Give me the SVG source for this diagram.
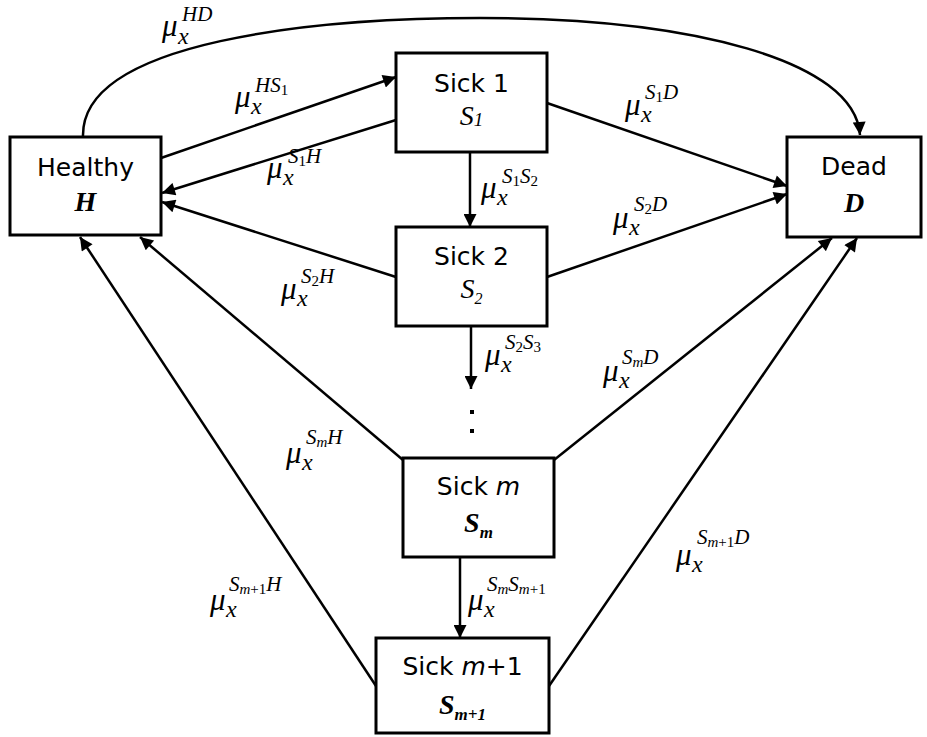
<svg xmlns="http://www.w3.org/2000/svg" width="927" height="737" viewBox="0 0 927 737">
<style>
  .box { fill: #fff; stroke: #000; stroke-width: 3; }
  .nt { font-family: "DejaVu Sans", Verdana, sans-serif; font-size: 25px; text-anchor: middle; fill: #000; }
  .ns { font-family: "Liberation Serif", "Times New Roman", serif; font-size: 28px; font-style: italic; font-weight: bold; text-anchor: middle; fill: #000; }
  .nsr { font-weight: normal; }
  .c { fill: none; stroke: #000; stroke-width: 2.5; marker-end: url(#ah); }
  .lbl { font-family: "Liberation Serif", "Times New Roman", serif; font-style: italic; font-size: 31px; fill: #000; }
  .sub { font-size: 24px; }
  .sup { font-size: 21px; }
  .ss { font-size: 15px; font-style: normal; }
  .ssi { font-size: 15px; }
</style>
<defs>
  <marker id="ah" viewBox="0 0 10 10" refX="10" refY="5" markerUnits="userSpaceOnUse" markerWidth="17" markerHeight="13" orient="auto">
    <path d="M0,0 L10,5 L0,10 z" fill="#000"/>
  </marker>
</defs>

<g id="connectors">
  <path class="c" d="M83,137 C80,40 320,18 480,18 C690,18 855,60 860,135"/>
  <path class="c" d="M161,158 L396,77"/>
  <path class="c" d="M396,120 L162,193"/>
  <path class="c" d="M396,277 L162,202"/>
  <path class="c" d="M403,460 L140,237"/>
  <path class="c" d="M376,686 L80,237"/>
  <path class="c" d="M547,103 L787,186"/>
  <path class="c" d="M547,277 L787,194"/>
  <path class="c" d="M554,460 L832,238"/>
  <path class="c" d="M549,686 L857,238"/>
  <path class="c" d="M470,152 L470,227"/>
  <path class="c" d="M471,326 L471,389"/>
  <path class="c" d="M460,557 L460,638"/>
  <rect x="470" y="410" width="4" height="4" fill="#000"/>
  <rect x="470" y="429" width="4" height="4" fill="#000"/>
</g>

<g id="labels">
  <text class="lbl"><tspan x="162" y="36">μ</tspan><tspan class="sub" x="178" y="44">x</tspan><tspan class="sup" x="182" y="21">HD</tspan></text>
  <text class="lbl"><tspan x="235" y="107">μ</tspan><tspan class="sub" x="251" y="114">x</tspan><tspan class="sup" x="255" y="92">HS</tspan><tspan class="ss" dy="3">1</tspan></text>
  <text class="lbl"><tspan x="267" y="178">μ</tspan><tspan class="sub" x="283" y="185">x</tspan><tspan class="sup" x="288" y="163">S</tspan><tspan class="ss" dy="3">1</tspan><tspan class="sup" dy="-3">H</tspan></text>
  <text class="lbl"><tspan x="625" y="115">μ</tspan><tspan class="sub" x="641" y="122">x</tspan><tspan class="sup" x="645" y="99">S</tspan><tspan class="ss" dy="3">1</tspan><tspan class="sup" dy="-3">D</tspan></text>
  <text class="lbl"><tspan x="481" y="198">μ</tspan><tspan class="sub" x="497" y="205">x</tspan><tspan class="sup" x="502" y="183">S</tspan><tspan class="ss" dy="3">1</tspan><tspan class="sup" dy="-3">S</tspan><tspan class="ss" dy="3">2</tspan></text>
  <text class="lbl"><tspan x="613" y="228">μ</tspan><tspan class="sub" x="629" y="235">x</tspan><tspan class="sup" x="634" y="211">S</tspan><tspan class="ss" dy="3">2</tspan><tspan class="sup" dy="-3">D</tspan></text>
  <text class="lbl"><tspan x="281" y="299">μ</tspan><tspan class="sub" x="297" y="306">x</tspan><tspan class="sup" x="301" y="283">S</tspan><tspan class="ss" dy="3">2</tspan><tspan class="sup" dy="-3">H</tspan></text>
  <text class="lbl"><tspan x="485" y="365">μ</tspan><tspan class="sub" x="501" y="372">x</tspan><tspan class="sup" x="505" y="349">S</tspan><tspan class="ss" dy="3">2</tspan><tspan class="sup" dy="-3">S</tspan><tspan class="ss" dy="3">3</tspan></text>
  <text class="lbl"><tspan x="603" y="381">μ</tspan><tspan class="sub" x="619" y="388">x</tspan><tspan class="sup" x="622" y="364">S</tspan><tspan class="ssi" dy="3">m</tspan><tspan class="sup" dy="-3">D</tspan></text>
  <text class="lbl"><tspan x="286" y="463">μ</tspan><tspan class="sub" x="302" y="470">x</tspan><tspan class="sup" x="306" y="444">S</tspan><tspan class="ssi" dy="3">m</tspan><tspan class="sup" dy="-3">H</tspan></text>
  <text class="lbl"><tspan x="676" y="565">μ</tspan><tspan class="sub" x="692" y="572">x</tspan><tspan class="sup" x="697" y="544">S</tspan><tspan class="ssi" dy="3">m</tspan><tspan class="ss">+1</tspan><tspan class="sup" dy="-3">D</tspan></text>
  <text class="lbl"><tspan x="210" y="610">μ</tspan><tspan class="sub" x="226" y="617">x</tspan><tspan class="sup" x="229" y="591">S</tspan><tspan class="ssi" dy="3">m</tspan><tspan class="ss">+1</tspan><tspan class="sup" dy="-3">H</tspan></text>
  <text class="lbl"><tspan x="468" y="610">μ</tspan><tspan class="sub" x="484" y="617">x</tspan><tspan class="sup" x="487" y="591">S</tspan><tspan class="ssi" dy="3">m</tspan><tspan class="sup" dy="-3">S</tspan><tspan class="ssi" dy="3">m</tspan><tspan class="ss">+1</tspan></text>
</g>

<g id="healthy">
  <rect class="box" x="10" y="137" width="151" height="98"/>
  <text class="nt" x="85.5" y="176">Healthy</text>
  <text class="ns" x="85.5" y="211">H</text>
</g>
<g id="sick1">
  <rect class="box" x="396" y="53" width="151" height="99"/>
  <text class="nt" x="471.5" y="92">Sick 1</text>
  <text class="ns nsr" x="471.5" y="125">S<tspan font-size="19px" dy="1">1</tspan></text>
</g>
<g id="sick2">
  <rect class="box" x="396" y="227" width="151" height="99"/>
  <text class="nt" x="471.5" y="265">Sick 2</text>
  <text class="ns nsr" x="471.5" y="298">S<tspan font-size="16px" dy="6">2</tspan></text>
</g>
<g id="sickm">
  <rect class="box" x="403" y="458" width="151" height="99"/>
  <text class="nt" x="478.5" y="495">Sick <tspan font-style="italic">m</tspan></text>
  <text class="ns" x="478.5" y="532">S<tspan font-size="17px" dy="6">m</tspan></text>
</g>
<g id="sickm1">
  <rect class="box" x="376" y="638" width="173" height="95"/>
  <text class="nt" x="462.5" y="675">Sick <tspan font-style="italic">m</tspan>+1</text>
  <text class="ns" x="462.5" y="714">S<tspan font-size="17px" dy="6">m+1</tspan></text>
</g>
<g id="dead">
  <rect class="box" x="787" y="137" width="134" height="100"/>
  <text class="nt" x="854" y="175">Dead</text>
  <text class="ns" x="854" y="212">D</text>
</g>
</svg>
